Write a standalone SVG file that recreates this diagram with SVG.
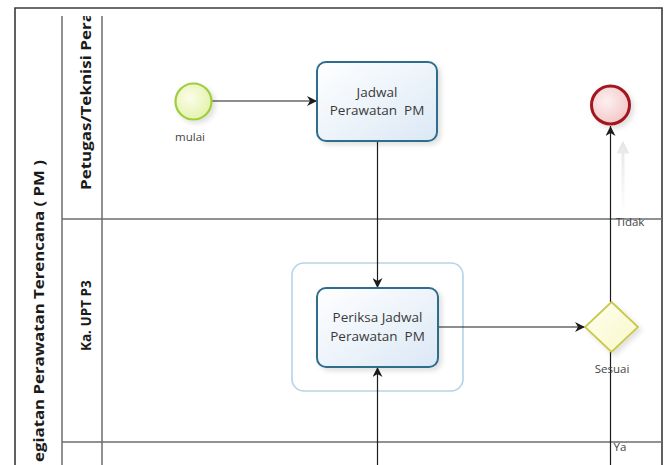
<svg xmlns="http://www.w3.org/2000/svg" width="672" height="465" viewBox="0 0 672 465">
  <style>
    .frame { fill: none; stroke: #3a3a3a; stroke-width: 1.6; }
    .divider { fill: none; stroke: #6e6e6e; stroke-width: 1.5; }
    .pool-title { font-family: "Open Sans", "Liberation Sans", sans-serif; font-weight: bold; font-size: 14.5px; fill: #1a1a1a; }
    .lane-title { font-family: "Open Sans", "Liberation Sans", sans-serif; font-weight: bold; font-size: 13.5px; fill: #1a1a1a; }
    .task { fill: url(#taskFill); stroke: #2f6e8c; stroke-width: 2; filter: url(#soft); }
    .task-text { font-family: "Open Sans", "Liberation Sans", sans-serif; font-size: 13.5px; fill: #3a3a3a; text-anchor: middle; white-space: pre; }
    .label { font-family: "Open Sans", "Liberation Sans", sans-serif; font-size: 11.5px; fill: #444; text-anchor: middle; }
    .flow { fill: none; stroke: #1c1c1c; stroke-width: 1.2; }
    .group { fill: none; stroke: #b6d3e6; stroke-width: 1.6; }
  </style>
  <defs>
    <linearGradient id="taskFill" x1="0" y1="0" x2="1" y2="1">
      <stop offset="0" stop-color="#ffffff"/>
      <stop offset="1" stop-color="#dbe8f5"/>
    </linearGradient>
    <radialGradient id="startFill" cx="0.4" cy="0.4" r="0.7">
      <stop offset="0" stop-color="#fbfde9"/>
      <stop offset="1" stop-color="#e2f1a6"/>
    </radialGradient>
    <radialGradient id="endFill" cx="0.4" cy="0.4" r="0.7">
      <stop offset="0" stop-color="#fdf0f0"/>
      <stop offset="1" stop-color="#f2c2c4"/>
    </radialGradient>
    <linearGradient id="gateFill" x1="0" y1="0" x2="1" y2="1">
      <stop offset="0" stop-color="#fffff0"/>
      <stop offset="1" stop-color="#f8f7c8"/>
    </linearGradient>
    <filter id="soft" x="-20%" y="-20%" width="150%" height="150%">
      <feDropShadow dx="3" dy="3" stdDeviation="2.5" flood-color="#000" flood-opacity="0.12"/>
    </filter>
    <linearGradient id="ghost" x1="0" y1="0" x2="0" y2="1">
      <stop offset="0" stop-color="#e6e6e6"/>
      <stop offset="1" stop-color="#ffffff"/>
    </linearGradient>
    <marker id="arrow" viewBox="0 0 10 10" refX="10" refY="5" markerWidth="10" markerHeight="10" markerUnits="userSpaceOnUse" orient="auto">
      <path d="M0,0 L10,5 L0,10 L3,5 z" fill="#1c1c1c"/>
    </marker>
    <clipPath id="laneHead">
      <rect x="62" y="16" width="40" height="449"/>
    </clipPath>
  </defs>

  <rect width="672" height="465" fill="#ffffff"/>

  <!-- pool and lanes -->
  <g id="pool">
    <path class="frame" d="M15,475 L15,8 L662,8 L662,475"/>
    <path class="divider" d="M62,16 L62,475 M102,16 L102,475"/>
    <path class="divider" d="M62,219 L662,219 M62,442 L662,442"/>
    <text class="pool-title" transform="translate(44,462) rotate(-90)" textLength="302" lengthAdjust="spacingAndGlyphs">egiatan Perawatan Terencana ( PM )</text>
  </g>
  <g id="lane-petugas" clip-path="url(#laneHead)">
    <text class="lane-title" transform="translate(91,190) rotate(-90)" textLength="178" lengthAdjust="spacingAndGlyphs">Petugas/Teknisi Pera</text>
  </g>
  <g id="lane-ka-upt">
    <text class="lane-title" transform="translate(91,351) rotate(-90)">Ka. UPT P3</text>
  </g>

  <!-- group around the check task -->
  <g id="group-periksa">
    <rect class="group" x="292" y="263" width="171" height="128" rx="12"/>
  </g>

  <!-- connectors -->
  <g id="connectors">
    <path d="M619,152 L623,144 L627,152 Z M623,150 L623,215" stroke="url(#ghost)" fill="#eeeeee" stroke-width="3"/>
    <path class="flow" d="M212,101 L317,101" marker-end="url(#arrow)"/>
    <path class="flow" d="M377.5,141 L377.5,288" marker-end="url(#arrow)"/>
    <path class="flow" d="M438,327 L585,327" marker-end="url(#arrow)"/>
    <path class="flow" d="M610.5,302 L610.5,126" marker-end="url(#arrow)"/>
    <path class="flow" d="M610.5,352 L610.5,470"/>
    <path class="flow" d="M377.5,470 L377.5,367" marker-end="url(#arrow)"/>
  </g>

  <!-- nodes -->
  <g id="start-mulai">
    <circle cx="193.5" cy="101.5" r="18" fill="url(#startFill)" stroke="#9fce3c" stroke-width="2.2" filter="url(#soft)"/>
    <text class="label" x="190" y="141">mulai</text>
  </g>
  <g id="task-jadwal">
    <rect class="task" x="317" y="62" width="120" height="79" rx="9"/>
    <text class="task-text" x="377" y="97" xml:space="preserve">Jadwal</text>
    <text class="task-text" x="377" y="115" xml:space="preserve">Perawatan  PM</text>
  </g>
  <g id="end-event">
    <circle cx="610.5" cy="105" r="19" fill="url(#endFill)" stroke="#a3161f" stroke-width="3" filter="url(#soft)"/>
  </g>
  <g id="task-periksa">
    <rect class="task" x="317" y="288" width="121" height="79" rx="9"/>
    <text class="task-text" x="377.5" y="322" xml:space="preserve">Periksa Jadwal</text>
    <text class="task-text" x="377.5" y="341" xml:space="preserve">Perawatan  PM</text>
  </g>
  <g id="gateway-sesuai">
    <path d="M611.5,302 L638,327 L611.5,352 L585,327 Z" fill="url(#gateFill)" stroke="#c9c84e" stroke-width="1.8" filter="url(#soft)"/>
    <text class="label" x="612" y="373">Sesuai</text>
  </g>
  <g id="flow-labels">
    <text class="label" x="630" y="226">Tidak</text>
    <text class="label" x="620" y="451">Ya</text>
  </g>
</svg>
